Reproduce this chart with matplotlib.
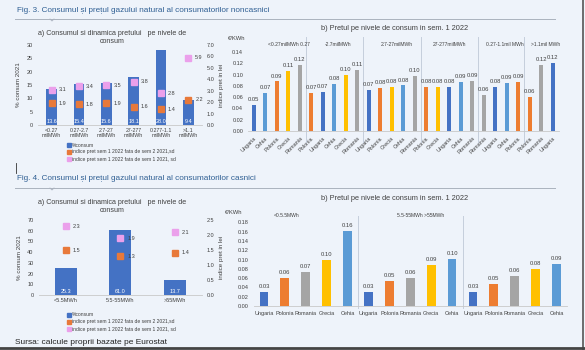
import matplotlib
matplotlib.use('Agg')
import matplotlib.pyplot as plt
import matplotlib.transforms as mtrans
from matplotlib.lines import Line2D
from matplotlib import font_manager

plt.rcParams['font.family'] = ['Liberation Sans', 'DejaVu Sans']

# ---------------- data ----------------
nc_cats = ['<0.27\nmilMWh', '0.27-2.7\nmilMWh', '2.7-27\nmilMWh', '27-277\nmilMWh',
           '0.277-1.1\nmilMWh', '>1.1\nmilMWh']
nc_consum = [13.6, 15.4, 15.6, 18.1, 28.0, 9.4]
nc_idx_s2 = [1.9, 1.8, 1.9, 1.6, 1.4, 2.2]
nc_idx_s1 = [3.1, 3.4, 3.5, 3.8, 2.8, 5.9]

nc_b_groups = ['<0.27milMWh 0.27', '-2.7milMWh', '2.7-27milMWh', '27-277milMWh',
               '0.27-1.1mil MWh', '>1.1mil MWh']
nc_b_group_sizes = [5, 5, 5, 5, 4, 3]
nc_b_countries = ['Ungaria', 'Cehia', 'Polonia', 'Grecia', 'Romania',
                  'Polonia', 'Ungaria', 'Cehia', 'Grecia', 'Romania',
                  'Ungaria', 'Polonia', 'Grecia', 'Cehia', 'Romania',
                  'Polonia', 'Grecia', 'Ungaria', 'Cehia', 'Romania',
                  'Romania', 'Ungaria', 'Cehia', 'Polonia',
                  'Polonia', 'Romania', 'Ungaria']
nc_b_prices = [0.046, 0.067, 0.088, 0.106, 0.117,
               0.067, 0.070, 0.083, 0.099, 0.108,
               0.073, 0.076, 0.078, 0.081, 0.098,
               0.078, 0.078, 0.078, 0.087, 0.089,
               0.064, 0.078, 0.086, 0.087,
               0.061, 0.117, 0.121]

c_cats = ['<5.5MWh', '5.5-55MWh', '>55MWh']
c_consum = [25.3, 61.0, 13.7]
c_idx_s2 = [1.5, 1.3, 1.4]
c_idx_s1 = [2.3, 1.9, 2.1]

c_b_groups = ['<0.5.5MWh', '5.5-55MWh >55MWh', '']
c_b_group_sizes = [5, 5, 5]
c_b_countries = ['Ungaria', 'Polonia', 'Romania', 'Grecia', 'Cehia'] * 3
c_b_prices = [0.030, 0.060, 0.074, 0.100, 0.161,
              0.030, 0.054, 0.061, 0.089, 0.101,
              0.030, 0.047, 0.064, 0.080, 0.091]

legend_labels = ['%consum', 'indice pret sem 1 2022 fata de sem 2 2021,sd',
                 'indice pret sem 1 2022 fata de sem 1 2021, sd']

# ---------------- style ----------------
BG = '#EEF3FA'
BLUE = '#4472C4'
ORANGE = '#E8793A'
PINK = '#EBA0EB'
TXT = '#404040'
SEP = '#C5CEDC'
country_colors = {'Ungaria': '#4472C4', 'Cehia': '#5B9BD5', 'Polonia': '#ED7D31',
                  'Grecia': '#FFC000', 'Romania': '#A5A5A5'}

installed = {f.name for f in font_manager.fontManager.ttflist}
if 'Liberation Sans Narrow' in installed:
    TITLE_FONT = ['Liberation Sans Narrow', 'Liberation Sans', 'DejaVu Sans']
    TITLE_FS = 6.9
else:
    TITLE_FONT = ['Liberation Sans', 'DejaVu Sans']
    TITLE_FS = 5.9

W, H = 585, 350
fig = plt.figure(figsize=(W / 100, H / 100), dpi=100, facecolor=BG)


def px_axes(x0, y0, x1, y1):
    return fig.add_axes([x0 / W, 1 - y1 / H, (x1 - x0) / W, (y1 - y0) / H])


def style_ax(ax):
    ax.set_facecolor('none')
    for s in ['top', 'right', 'left']:
        ax.spines[s].set_visible(False)
    ax.spines['bottom'].set_color('#C8C8C8')
    ax.spines['bottom'].set_linewidth(0.6)
    ax.tick_params(length=0, colors=TXT, labelsize=4)


def panel_a(box, cats, consum, s2, s1, ymax, ystep, rmax, rstep, title_y, legend_y, tickfs):
    ax = px_axes(*box)
    style_ax(ax)
    x = list(range(len(cats)))
    ax.bar(x, consum, width=0.4, color=BLUE, zorder=2)
    ax.set_xlim(-0.5, len(cats) - 0.5)
    ax.set_ylim(0, ymax)
    ax.set_yticks([v for v in range(0, ymax + 1, ystep)])
    ax.set_xticks(x)
    ax.set_xticklabels(cats, fontsize=tickfs, color=TXT, linespacing=1.0)
    ax.tick_params(axis='x', pad=2)
    tr = mtrans.blended_transform_factory(ax.transData, ax.transAxes)
    for xi, v in zip(x, consum):
        ax.text(xi, 0.015, f'{v:.1f}', transform=tr, ha='center', va='bottom',
                fontsize=4, color='white', zorder=4)
    ax.set_ylabel('% consum 2021', fontsize=4.5, color=TXT, labelpad=4)
    ax2 = ax.twinx()
    ax2.set_facecolor('none')
    for s in ax2.spines.values():
        s.set_visible(False)
    ax2.set_ylim(0, rmax)
    n = int(round(rmax / rstep))
    ax2.set_yticks([i * rstep for i in range(n + 1)])
    ax2.set_yticklabels([f'{i * rstep:.1f}' for i in range(n + 1)])
    ax2.tick_params(length=0, colors=TXT, labelsize=4)
    ax2.set_ylabel('indice pret in lei', fontsize=4.5, color=TXT, labelpad=3)
    ax2.plot(x, s2, ls='none', marker='s', ms=4.2, color=ORANGE, zorder=5)
    ax2.plot(x, s1, ls='none', marker='s', ms=4.2, color=PINK, zorder=5)
    for xi, a, b in zip(x, s2, s1):
        ax2.annotate(f'{a:.1f}', (xi, a), xytext=(5, 0), textcoords='offset points',
                     fontsize=4, color=TXT, va='center', ha='left')
        ax2.annotate(f'{b:.1f}', (xi, b), xytext=(5, 0), textcoords='offset points',
                     fontsize=4, color=TXT, va='center', ha='left')
    fig.text(112 / W, 1 - title_y / H, 'a) Consumul si dinamica pretului   pe nivele de\nconsum',
             ha='center', va='top', fontsize=5.1, color=TXT, linespacing=1.15)
    for i, (lab, col) in enumerate(zip(legend_labels, [BLUE, ORANGE, PINK])):
        yy = 1 - (legend_y + 7 * i) / H
        fig.add_artist(Line2D([69 / W], [yy], marker='s', ms=2.2, color=col, ls='none'))
        fig.text(71.5 / W, yy, lab, fontsize=3.6, color=TXT, va='center', ha='left')
    return ax


def panel_b(box, countries, prices, sizes, groups, ymax, yticks, rotate, bw, label_pos,
            sep_bottom, sep_top, unit_x):
    ax = px_axes(*box)
    style_ax(ax)
    x = list(range(len(prices)))
    ax.bar(x, prices, width=bw, color=[country_colors[c] for c in countries], zorder=2)
    ax.set_xlim(-0.5, len(prices) - 0.5)
    ax.set_ylim(0, ymax)
    ax.set_yticks(yticks)
    ax.set_yticklabels([f'{t:.2f}' for t in yticks])
    ax.set_xticks(x)
    if rotate:
        ax.set_xticklabels(countries, rotation=45, ha='right', rotation_mode='anchor',
                           fontsize=4, color=TXT)
    else:
        ax.set_xticklabels(countries, fontsize=4, color=TXT)
    for xi, v in zip(x, prices):
        ax.annotate(f'{v:.2f}', (xi, v), xytext=(0, 2), textcoords='offset points',
                    ha='center', va='bottom', fontsize=4.2, color=TXT)
    tr = mtrans.blended_transform_factory(ax.transData, ax.transAxes)
    start = 0
    for k, sz in enumerate(sizes):
        if k > 0:
            ax.plot([start - 0.5, start - 0.5], [sep_bottom, sep_top], transform=tr,
                    color=SEP, lw=0.7, clip_on=False)
        start += sz
    for (gx, gy), g in zip(label_pos, groups):
        if g:
            ax.text(gx, gy, g, transform=tr, ha='center', va='center', fontsize=3.6, color=TXT)
    ax.text(unit_x, 1.0, '€/KWh', transform=ax.transAxes, fontsize=4.2, color=TXT,
            ha='left', va='center')
    return ax


# ---------------- Fig. 3 ----------------
fig.text(17 / W, 1 - 10.5 / H, 'Fig. 3. Consumul și prețul gazului natural al consumatorilor noncasnici',
         fontsize=TITLE_FS, family=TITLE_FONT, color='#2F5F93', va='center', ha='left')
fig.add_artist(Line2D([15 / W, 555 / W], [1 - 19 / H] * 2, color='#AAB2BE', lw=0.7))
fig.add_artist(Line2D([50 / W, 52 / W, 54 / W], [1 - 19 / H, 1 - 21 / H, 1 - 19 / H],
                      color='#AAB2BE', lw=0.6))

panel_a((38, 45, 202, 125), nc_cats, nc_consum, nc_idx_s2, nc_idx_s1,
        30, 5, 7.0, 1.0, 30, 145, 3.8)

fig.text(395 / W, 1 - 29 / H, 'b) Pretul pe nivele de consum in sem. 1 2022',
         fontsize=5.3, color=TXT, ha='center', va='center')
nc_lab_pos = [(3.1, 0.93), (7.3, 0.93), (12.4, 0.93), (17.0, 0.93), (21.8, 0.93), (25.4, 0.93)]
panel_b((248, 38, 558.5, 131), nc_b_countries, nc_b_prices, nc_b_group_sizes, nc_b_groups,
        0.165, [0.0, 0.02, 0.04, 0.06, 0.08, 0.10, 0.12, 0.14], True, 0.32, nc_lab_pos,
        -0.12, 1.01, -0.065)

# ---------------- Fig. 4 ----------------
fig.add_artist(Line2D([16 / W, 16 / W], [1 - 163 / H, 1 - 173 / H], color='#333333', lw=0.6))
fig.text(17 / W, 1 - 178 / H, 'Fig. 4. Consumul și prețul gazului natural al consumatorilor casnici',
         fontsize=TITLE_FS, family=TITLE_FONT, color='#2F5F93', va='center', ha='left')
fig.add_artist(Line2D([15 / W, 555 / W], [1 - 188 / H] * 2, color='#AAB2BE', lw=0.7))
fig.add_artist(Line2D([50 / W, 52 / W, 54 / W], [1 - 188 / H, 1 - 190 / H, 1 - 188 / H],
                      color='#AAB2BE', lw=0.6))

panel_a((38.5, 220, 202, 295), c_cats, c_consum, c_idx_s2, c_idx_s1,
        70, 10, 2.5, 0.5, 199, 315, 4)

fig.text(395 / W, 1 - 198 / H, 'b) Pretul pe nivele de consum in sem. 1 2022',
         fontsize=5.3, color=TXT, ha='center', va='center')
c_lab_pos = [(1.1, 0.97), (7.5, 0.97), (12, 0.97)]
panel_b((253.5, 213, 567, 306), c_b_countries, c_b_prices, c_b_group_sizes, c_b_groups,
        0.20, [0.0, 0.02, 0.04, 0.06, 0.08, 0.10, 0.12, 0.14, 0.16, 0.18], False, 0.42,
        c_lab_pos, -0.02, 0.97, -0.09)

fig.text(15 / W, 1 - 343 / H, 'Sursa: calcule proprii bazate pe Eurostat',
         fontsize=6, color='#222222', ha='left', va='center')

fig.add_artist(Line2D([583 / W, 583 / W], [0, 1], color='#555555', lw=1.2))
fig.add_artist(Line2D([0, 1], [2 / H, 2 / H], color='#444444', lw=2.0))

fig.savefig('out.png', dpi=100, facecolor=BG)
